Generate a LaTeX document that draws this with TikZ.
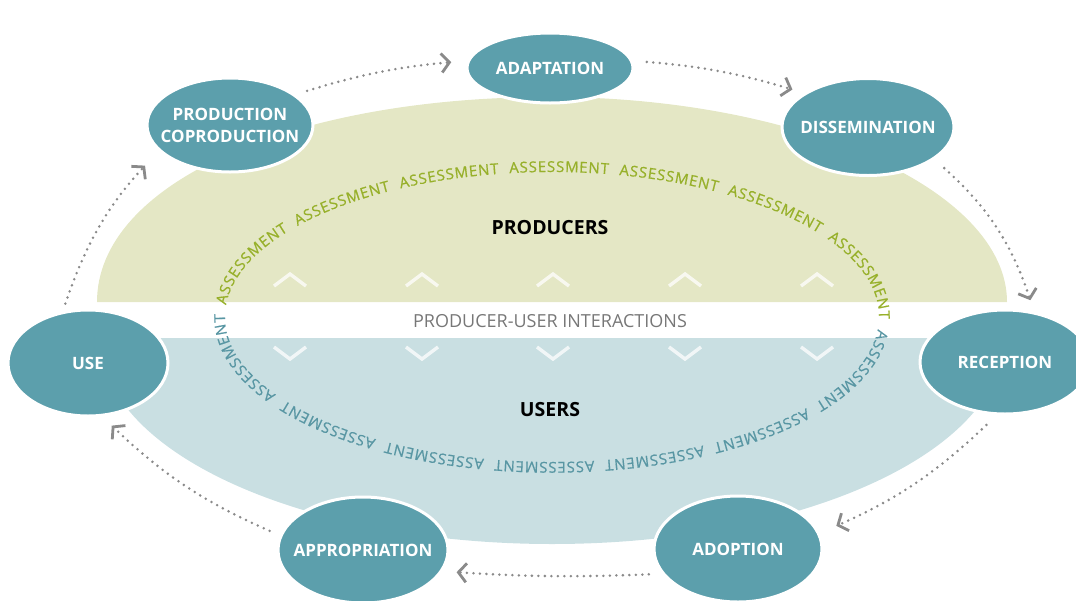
\documentclass[tikz,border=0pt]{standalone}
\usepackage{fontspec}
\setmainfont{Open Sans}
\newfontfamily\asfont[RawFeature={embolden=0.7}]{Open Sans}
\usetikzlibrary{arrows.meta,shapes.geometric,decorations.text}
\definecolor{stagefill}{HTML}{5C9FAC}
\definecolor{greenbg}{HTML}{E4E7C5}
\definecolor{bluebg}{HTML}{C9DFE2}
\definecolor{agreen}{HTML}{97B02A}
\definecolor{ablue}{HTML}{5896A3}
\definecolor{arrowgray}{HTML}{8A8A8A}
\definecolor{intergray}{HTML}{777777}
\newcommand\asgreen{\asfont\color{agreen}\fontsize{15}{16}\selectfont}
\newcommand\asblue{\asfont\color{ablue}\fontsize{15}{16}\selectfont}
\begin{document}
\begin{tikzpicture}[x=1pt,y=1pt,
  stage/.style={ellipse, fill=stagefill, draw=white, line width=3pt, inner xsep=-12pt, inner ysep=0pt,
    text=white, font=\bfseries\fontsize{17}{22}\selectfont, align=center},
  flow/.style={draw=arrowgray, line width=2.8pt, line cap=round,
    dash pattern=on 0pt off 6.5pt,
    -{Straight Barb[length=8pt,width=19pt,line width=2.8pt]}},
  chev/.style={draw=white, line width=3.4pt, opacity=.75},
  centertxt/.style={font=\bfseries\fontsize{19.5}{22}\selectfont, text=black}
]
\useasboundingbox (0,0) rectangle (1076,-600);
\fill[greenbg] (97,-302) .. controls (97,-183) and (292,-97) .. (550,-97)
  .. controls (800,-97) and (1007,-190) .. (1007,-302) -- cycle;
\fill[bluebg] (100,-338) arc[start angle=180,end angle=360,x radius=452,y radius=206] -- cycle;

\foreach \x in {290,422,553,685,817}{
  \draw[chev] (\x-16,-286) -- (\x,-274) -- (\x+16,-286);
  \draw[chev] (\x-16,-347) -- (\x,-359) -- (\x+16,-347);
}

\path[decorate, decoration={text along path, text align={fit to path},
  text={|\asgreen|ASSESSMENT{\hskip 9pt}ASSESSMENT{\hskip 9pt}ASSESSMENT{\hskip 9pt}ASSESSMENT{\hskip 9pt}ASSESSMENT{\hskip 9pt}ASSESSMENT{\hskip 9pt}ASSESSMENT{\hskip 9pt}|\asblue|ASSESSMENT{\hskip 9pt}ASSESSMENT{\hskip 9pt}ASSESSMENT{\hskip 9pt}ASSESSMENT{\hskip 9pt}ASSESSMENT{\hskip 9pt}ASSESSMENT{\hskip 9pt}ASSESSMENT{\hskip 9pt}}}]
  (552,-317) ++(175.3:327 and 145) arc[start angle=175.3, end angle=-184.7, x radius=327, y radius=145];

\node[centertxt] (producers) at (550,-228) {PRODUCERS};
\node[centertxt] (users) at (550,-410) {USERS};
\node[text=intergray, font=\fontsize{18}{20}\selectfont] (inter) at (550,-321) {PRODUCER-USER INTERACTIONS};

\node[stage, minimum width=166pt, minimum height=94pt] (prod) at (230,-125) {PRODUCTION\\COPRODUCTION};
\node[stage, minimum width=166pt, minimum height=70pt] (adapt) at (550,-68) {ADAPTATION};
\node[stage, minimum width=172pt, minimum height=97pt] (dissem) at (868,-127) {DISSEMINATION};
\node[stage, minimum width=170pt, minimum height=104pt] (recep) at (1005,-362) {RECEPTION};
\node[stage, minimum width=168pt, minimum height=106pt] (adopt) at (738,-549) {ADOPTION};
\node[stage, minimum width=170pt, minimum height=106pt] (approp) at (363,-550) {APPROPRIATION};
\node[stage, minimum width=160pt, minimum height=106pt] (use) at (88,-363) {USE};

\draw[flow, shorten <=12pt, shorten >=16pt] (prod.25) to[bend left=6] (adapt.175);
\draw[flow, shorten <=14pt, shorten >=12pt] (adapt.5) to[bend left=6] (dissem.152);
\draw[flow, shorten <=13pt, shorten >=12pt] (dissem.-26) to[bend left=15] (recep.60);
\draw[flow, shorten <=14pt, shorten >=18pt] (recep.-99) to[bend left=10] (adopt.11);
\draw[flow, shorten <=13pt, shorten >=14pt] (adopt.198) to[bend left=3] (approp.-15);
\draw[flow, shorten <=11pt, shorten >=13pt] (approp.170) to[bend left=10] (use.-75);
\draw[flow, shorten <=8pt, shorten >=20pt] (use.116) to[bend left=12] (prod.200);
\end{tikzpicture}
\end{document}
